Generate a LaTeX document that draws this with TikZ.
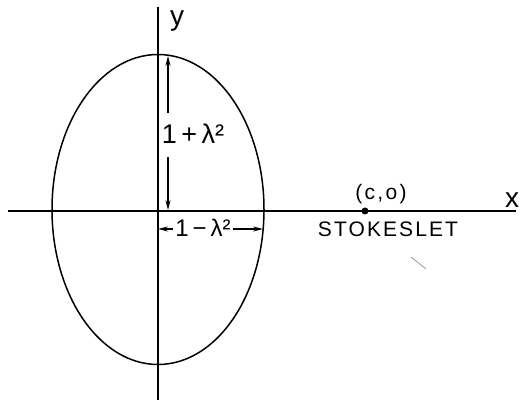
\documentclass[tikz,border=0pt]{standalone}
\usepackage{fontspec}
\setmainfont{Liberation Sans}
\usetikzlibrary{arrows.meta}
\begin{document}
\begin{tikzpicture}[x=1pt,y=1pt,line width=1.5pt,
  lbl/.style={inner sep=0pt,font=\fontsize{24}{26}\selectfont},
  axlbl/.style={inner sep=0pt,font=\fontsize{28}{30}\selectfont},
  dimarrow/.style={-{Stealth[length=10pt,width=5pt]},line width=1.1pt}]
\useasboundingbox (0,0) rectangle (522,403);
% axes
\coordinate (xl) at (8,192);
\coordinate (xr) at (516,192);
\coordinate (yb) at (158,3);
\coordinate (yt) at (158,396);
\draw (xl) -- (xr);
\draw (yb) -- (yt);
\node[axlbl] (ylab) at (177,382) {y};
\node[axlbl] (xlab) at (512,203) {x};
% ellipse
\draw (158,193.5) ellipse [x radius=106, y radius=155];
% vertical dimension 1+lambda^2
\coordinate (vt) at (168,347);
\coordinate (vb) at (168,193);
\coordinate (va1) at (168,290);
\coordinate (va2) at (168,246);
\node[lbl,font=\fontsize{27}{29}\selectfont] (vlab) at (193,269) {1\,+\,λ²};
\draw[dimarrow] (va1) -- (vt);
\draw[dimarrow] (va2) -- (vb);
% horizontal dimension 1-lambda^2
\coordinate (hl) at (158,174);
\coordinate (hr) at (263,174);
\coordinate (ha1) at (173,174);
\coordinate (ha2) at (233,174);
\node[lbl] (hlab) at (203,175) {1\,−\,λ²};
\draw[dimarrow] (ha1) -- (hl);
\draw[dimarrow] (ha2) -- (hr);
% stokeslet
\node[circle,fill,inner sep=0pt,minimum size=7pt] (st) at (365,192) {};
\node[lbl,font=\fontsize{21}{23}\selectfont\addfontfeatures{LetterSpace=11}] (cl) at (381,209) {(c,o)};
\node[lbl,font=\fontsize{21}{23}\selectfont\addfontfeatures{LetterSpace=10}] (sl) at (388,173.5) {STOKESLET};
% stray mark
\coordinate (m1) at (411,146);
\coordinate (m2) at (426,134);
\draw[gray,line width=0.6pt] (m1) -- (m2);
\end{tikzpicture}
\end{document}
